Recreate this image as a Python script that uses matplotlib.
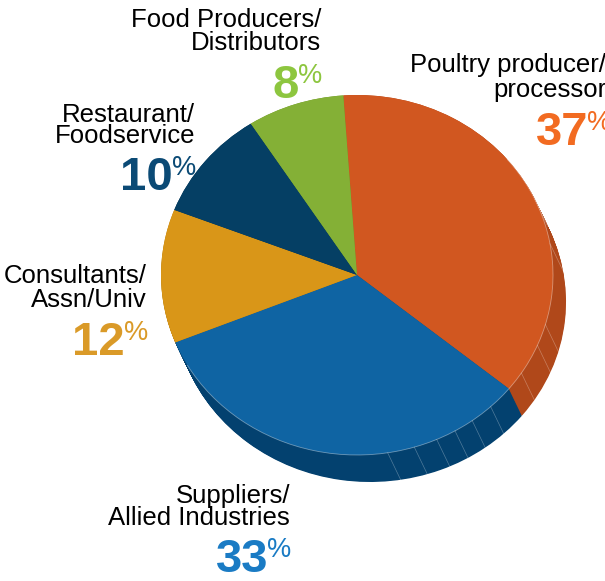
import numpy as np
import matplotlib
matplotlib.use("Agg")
import matplotlib.pyplot as plt
from matplotlib.patches import Arc

# ---- data ----
categories = ["Poultry producer/\nprocessor", "Suppliers/\nAllied Industries",
              "Consultants/\nAssn/Univ", "Restaurant/\nFoodservice",
              "Food Producers/\nDistributors"]
values = [37, 33, 12, 10, 8]
top_colors = ["#D15720", "#0F64A3", "#D99618", "#053F64", "#84B036"]
side_colors = ["#B0481A", "#03416F", "#B07A10", "#032F4C", "#6A9029"]
label_colors = ["#F26B21", "#1A7BC4", "#DA9A28", "#0B4A75", "#8DC63F"]

W, H = 605, 581
fig = plt.figure(figsize=(W / 100, H / 100), dpi=100)
fig.patch.set_facecolor("white")

# text axes in pixel coordinates
tax = fig.add_axes([0, 0, 1, 1])
tax.set_xlim(0, W)
tax.set_ylim(H, 0)
tax.axis("off")

# pie axes: unit circle maps to the ellipse of the top face
cx, cy, rx, ry = 357, 275, 196, 180
pax = fig.add_axes([(cx - rx) / W, 1 - (cy + ry) / H, 2 * rx / W, 2 * ry / H])
pax.set_zorder(0)
tax.set_zorder(1)
tax.patch.set_alpha(0)

dx, dy = 13 / rx, 27 / ry
start = 94
layers = np.linspace(1, 0.0, 40)
for t in layers:
    wedges, _ = pax.pie(values, colors=side_colors, startangle=start,
                        counterclock=False, center=(t * dx, -t * dy),
                        radius=1, wedgeprops=dict(linewidth=0, edgecolor="none",
                                                  antialiased=True))
    for w in wedges:
        w.set_clip_on(False)

# facet lines on the side
facet_angles = [25, 10, -16, -23, -33, -47, -54, -60, -66, -73, -81]
for a in facet_angles:
    ar = np.deg2rad(a)
    x0, y0 = np.cos(ar), np.sin(ar)
    pax.plot([x0, x0 + dx], [y0, y0 - dy], color="white", alpha=0.3,
             lw=0.5, clip_on=False)

wedges, _ = pax.pie(values, colors=top_colors, startangle=start,
                    counterclock=False, center=(0, 0), radius=1,
                    wedgeprops=dict(linewidth=0, edgecolor="none"))
for w in wedges:
    w.set_clip_on(False)

# light rim highlight
rim = Arc((0, 0), 2, 2, theta1=-150, theta2=40, color="white", alpha=0.4,
          lw=0.6, clip_on=False)
pax.add_patch(rim)

pax.set_xlim(-1, 1)
pax.set_ylim(-1, 1)
pax.set_aspect("auto")
pax.axis("off")

# ---- labels ----
font = "Liberation Sans"
lab_size = 18.5
num_size = 34
pct_size = 19.5

# (right x, baseline line1, baseline line2, number baseline)
label_pos = [
    (606, 72, 97, 145),
    (290, 503, 525, 572),
    (147, 283, 307, 355),
    (195, 122, 143, 190),
    (321, 27, 50, 98),
]
for cat, val, col, (xr, b1, b2, bn) in zip(categories, values, label_colors, label_pos):
    l1, l2 = cat.split("\n")
    tax.text(xr, b1, l1, ha="right", va="baseline", fontsize=lab_size,
             family=font, color="black")
    tax.text(xr, b2, l2, ha="right", va="baseline", fontsize=lab_size,
             family=font, color="black")
    pr = xr + (4 if xr > 600 else 0)
    tax.text(pr + 1, bn - 35, "%", ha="right", va="top", fontsize=pct_size,
             family=font, color=col)
    tax.text(pr - 22, bn, f"{val}", ha="right", va="baseline",
             fontsize=num_size, family=font, fontweight="bold", color=col)

fig.savefig("out.png", dpi=100)
